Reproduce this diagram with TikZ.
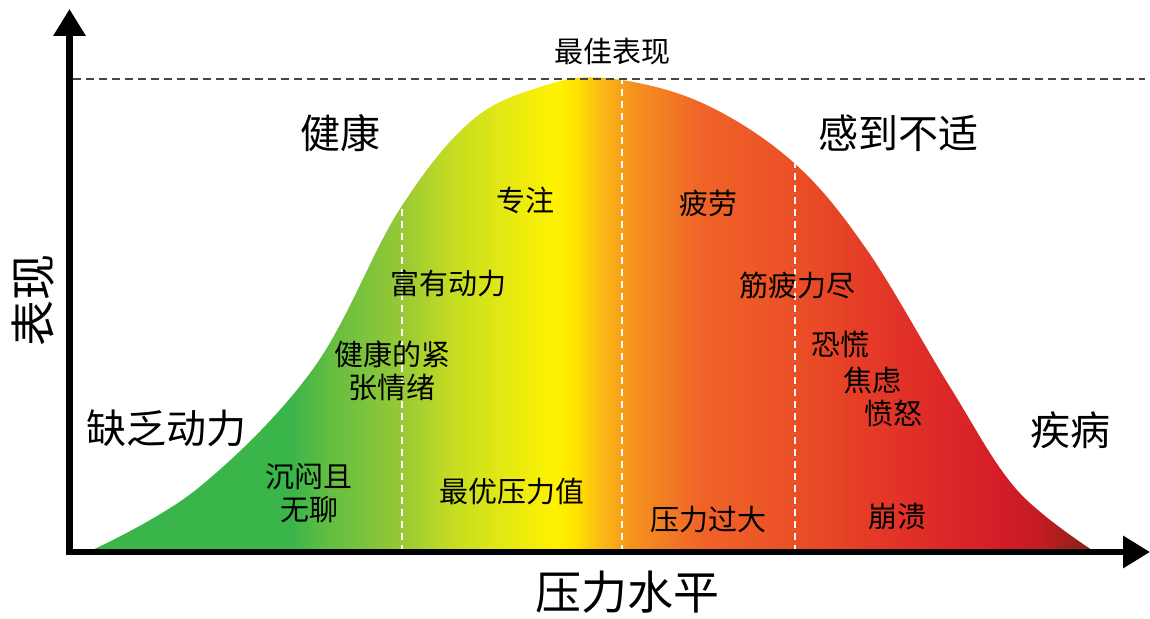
\documentclass[tikz,border=0pt]{standalone}
\usepackage{fontspec}
\setmainfont{Noto Sans CJK SC}
\usetikzlibrary{arrows.meta}
\definecolor{s1}{RGB}{57,181,74}
\definecolor{s2}{RGB}{100,190,65}
\definecolor{s3}{RGB}{150,200,55}
\definecolor{s4}{RGB}{195,220,35}
\definecolor{s5}{RGB}{225,232,20}
\definecolor{s6}{RGB}{255,242,0}
\definecolor{s7}{RGB}{255,228,0}
\definecolor{s8}{RGB}{250,188,20}
\definecolor{s9}{RGB}{245,148,30}
\definecolor{s10}{RGB}{240,100,40}
\definecolor{s11}{RGB}{234,78,38}
\definecolor{s12}{RGB}{226,50,40}
\definecolor{s13}{RGB}{212,28,40}
\definecolor{s14}{RGB}{195,28,35}
\definecolor{s15}{RGB}{125,35,20}
\definecolor{refline}{RGB}{70,70,70}
\pgfdeclarehorizontalshading{stress}{100bp}{color(0bp)=(s1); color(25bp)=(s1); color(35.03bp)=(s1); color(37.02bp)=(s2); color(40.49bp)=(s3); color(42.97bp)=(s4); color(45.45bp)=(s5); color(48.19bp)=(s6); color(49.18bp)=(s7); color(50.42bp)=(s8); color(51.91bp)=(s9); color(55.39bp)=(s10); color(60.35bp)=(s11); color(65.32bp)=(s12); color(70.28bp)=(s13); color(72.27bp)=(s14); color(75bp)=(s15); color(100bp)=(s15)}
\begin{document}
\begin{tikzpicture}[x=1pt,y=-1pt,
  lab/.style={inner sep=0pt, text=black, font=\fontsize{29}{33}\selectfont, align=center},
  big/.style={inner sep=0pt, text=black, font=\fontsize{40}{44}\selectfont},
  axlab/.style={inner sep=0pt, text=black, font=\fontsize{46}{48}\selectfont},
  axisline/.style={line width=6.5pt, draw=black, -{Triangle[length=27pt,width=31pt]}},
  refdash/.style={draw=refline, line width=1.8pt, dash pattern=on 8pt off 5pt},
  zonedash/.style={draw=white, line width=1.5pt, dash pattern=on 7pt off 5pt}]
\useasboundingbox (0,0) rectangle (1150,618);
% bell curve with gradient
\begin{scope}
  \clip plot[smooth, tension=0.6] coordinates {(88,552) (197,489) (313,369) (398,212) (470,122) (540,87) (605,78) (700,102) (793,162) (867,250) (950,387) (1017,490) (1095,552)} -- cycle;
  \shade[shading=stress] (88,40) rectangle (1095,560);
  \coordinate (d1b) at (402,552); \coordinate (d1t) at (402,60);
  \coordinate (d2b) at (622,552); \coordinate (d2t) at (622,60);
  \coordinate (d3b) at (795,552); \coordinate (d3t) at (795,60);
  \draw[zonedash] (d1b) -- (d1t);
  \draw[zonedash] (d2b) -- (d2t);
  \draw[zonedash] (d3b) -- (d3t);
\end{scope}
% best performance line
\coordinate (bl) at (73,79);
\coordinate (br) at (1145,79);
\draw[refdash] (bl) -- (br);
% axes
\coordinate (oy) at (69.5,555);
\coordinate (ytip) at (69.5,9);
\coordinate (ox) at (66,552);
\coordinate (xtip) at (1150,552);
\draw[axisline] (oy) -- (ytip);
\draw[axisline] (ox) -- (xtip);
% labels
\node[lab] (best) at (612,52) {最佳表现};
\node[big] (health) at (340,133) {健康};
\node[big] (uncomf) at (898,133) {感到不适};
\node[big] (nomot) at (166,428) {缺乏动力};
\node[big] (ill) at (1070,430) {疾病};
\node[axlab, rotate=90] (perf) at (33,300) {表现};
\node[axlab] (stress) at (627,592) {压力水平};
\node[lab] (focus) at (525,200) {专注};
\node[lab] (motiv) at (448,283) {富有动力};
\node[lab] (tension) at (392,371) {健康的紧\\张情绪};
\node[lab] (bored) at (309,493) {沉闷且\\无聊};
\node[lab] (optimal) at (512,492) {最优压力值};
\node[lab] (tired) at (708,203) {疲劳};
\node[lab] (exhaust) at (797,285) {筋疲力尽};
\node[lab] (panic) at (840,345) {恐慌};
\node[lab] (anxiety) at (872,380) {焦虑};
\node[lab] (anger) at (893,413) {愤怒};
\node[lab] (over) at (708,520) {压力过大};
\node[lab] (collapse) at (897,517) {崩溃};
\end{tikzpicture}
\end{document}
